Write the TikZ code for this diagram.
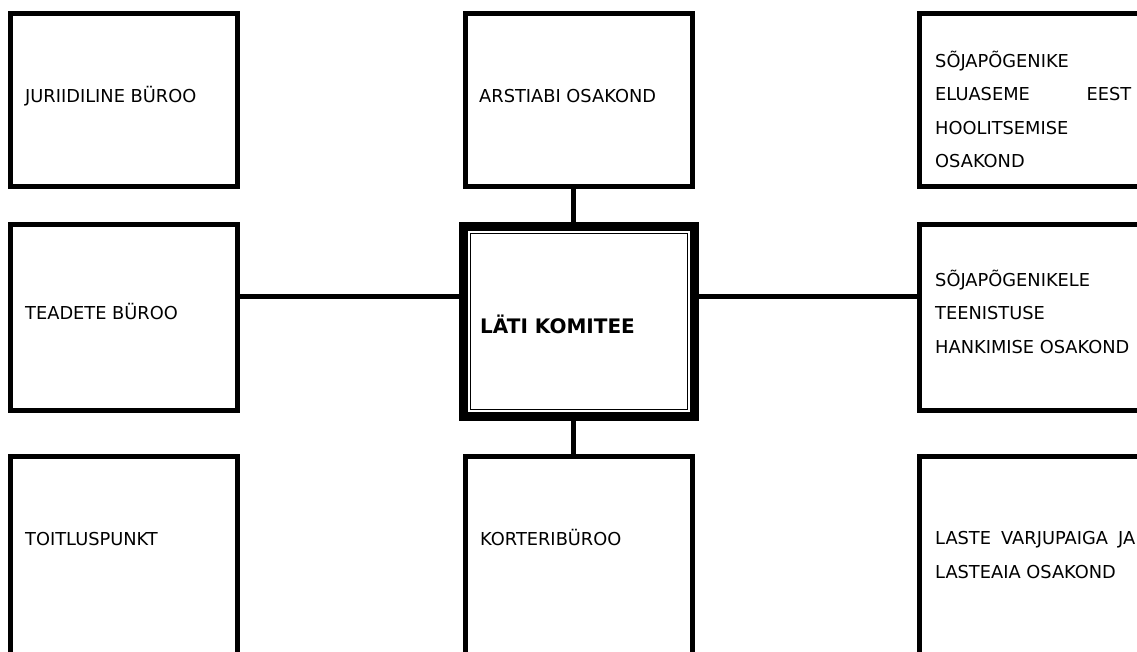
\documentclass[tikz,border=0pt]{standalone}
\usepackage{fontspec}
\setmainfont{DejaVu Sans}

\begin{document}
\begin{tikzpicture}[x=1pt, y=-1pt,
  every node/.style={inner sep=0pt, font=\fontsize{17.8}{33.5}\selectfont},
  box/.style={draw, line width=5pt, minimum width=227pt, minimum height=#1},
  box/.default=173pt,
  head/.style={draw, line width=9pt, outer sep=0pt, minimum width=231pt, minimum height=190pt},
  lbl/.style={anchor=base west},
  link/.style={line width=5pt}
]
\useasboundingbox (0,0) rectangle (1137,652);
\clip (0,0) rectangle (1137,652);
\node[box] (jur) at (124,100) {};
\node[box] (ars) at (579,100) {};
\node[box, minimum width=260pt] (elu) at (1049.5,100) {};
\node[box=186pt] (tea) at (124,317.5) {};
\node[head] (lk) at (579,321.5) {};
\node[box=186pt, minimum width=260pt] (hank) at (1049.5,317.5) {};
\node[box=260pt] (toit) at (124,586.5) {};
\node[box=260pt] (kor) at (579,586.5) {};
\node[box=260pt, minimum width=260pt] (laste) at (1049.5,586.5) {};

\draw[line width=1pt] ([xshift=6.6pt,yshift=-6.6pt]lk.north west) rectangle ([xshift=-6.6pt,yshift=6.6pt]lk.south east);

\draw[link] ([xshift=-5.5pt]ars.south) -- ([xshift=-5.5pt]lk.north);
\draw[link] ([xshift=-5.5pt]lk.south) -- ([xshift=-5.5pt]kor.north);
\draw[link] ([yshift=21pt]tea.east) -- ([yshift=21pt]tea.east -| lk.west);
\draw[link] ([yshift=21pt]hank.west) -- ([yshift=21pt]hank.west -| lk.east);

\node[lbl] (tjur) at (25,103) {JURIIDILINE BÜROO};
\node[lbl] (tars) at (479,103) {ARSTIABI OSAKOND};
\node[lbl, align=left] (telu) at (935,168) {SÕJAPÕGENIKE\\ \hbox to 196pt{ELUASEME\hfill EEST}\\ HOOLITSEMISE\\ OSAKOND};
\node[lbl] (ttea) at (25,319) {TEADETE BÜROO};
\node[lbl, font=\fontsize{20}{24}\selectfont\bfseries] (tlk) at (480,333) {LÄTI KOMITEE};
\node[lbl, align=left] (thank) at (935,353) {SÕJAPÕGENIKELE\\ TEENISTUSE\\ HANKIMISE OSAKOND};
\node[lbl] (ttoit) at (25,545) {TOITLUSPUNKT};
\node[lbl] (tkor) at (480,545) {KORTERIBÜROO};
\node[lbl, align=left] (tlaste) at (935,578) {\hbox to 200pt{LASTE\hfill VARJUPAIGA\hfill JA}\\ LASTEAIA OSAKOND};
\end{tikzpicture}
\end{document}
